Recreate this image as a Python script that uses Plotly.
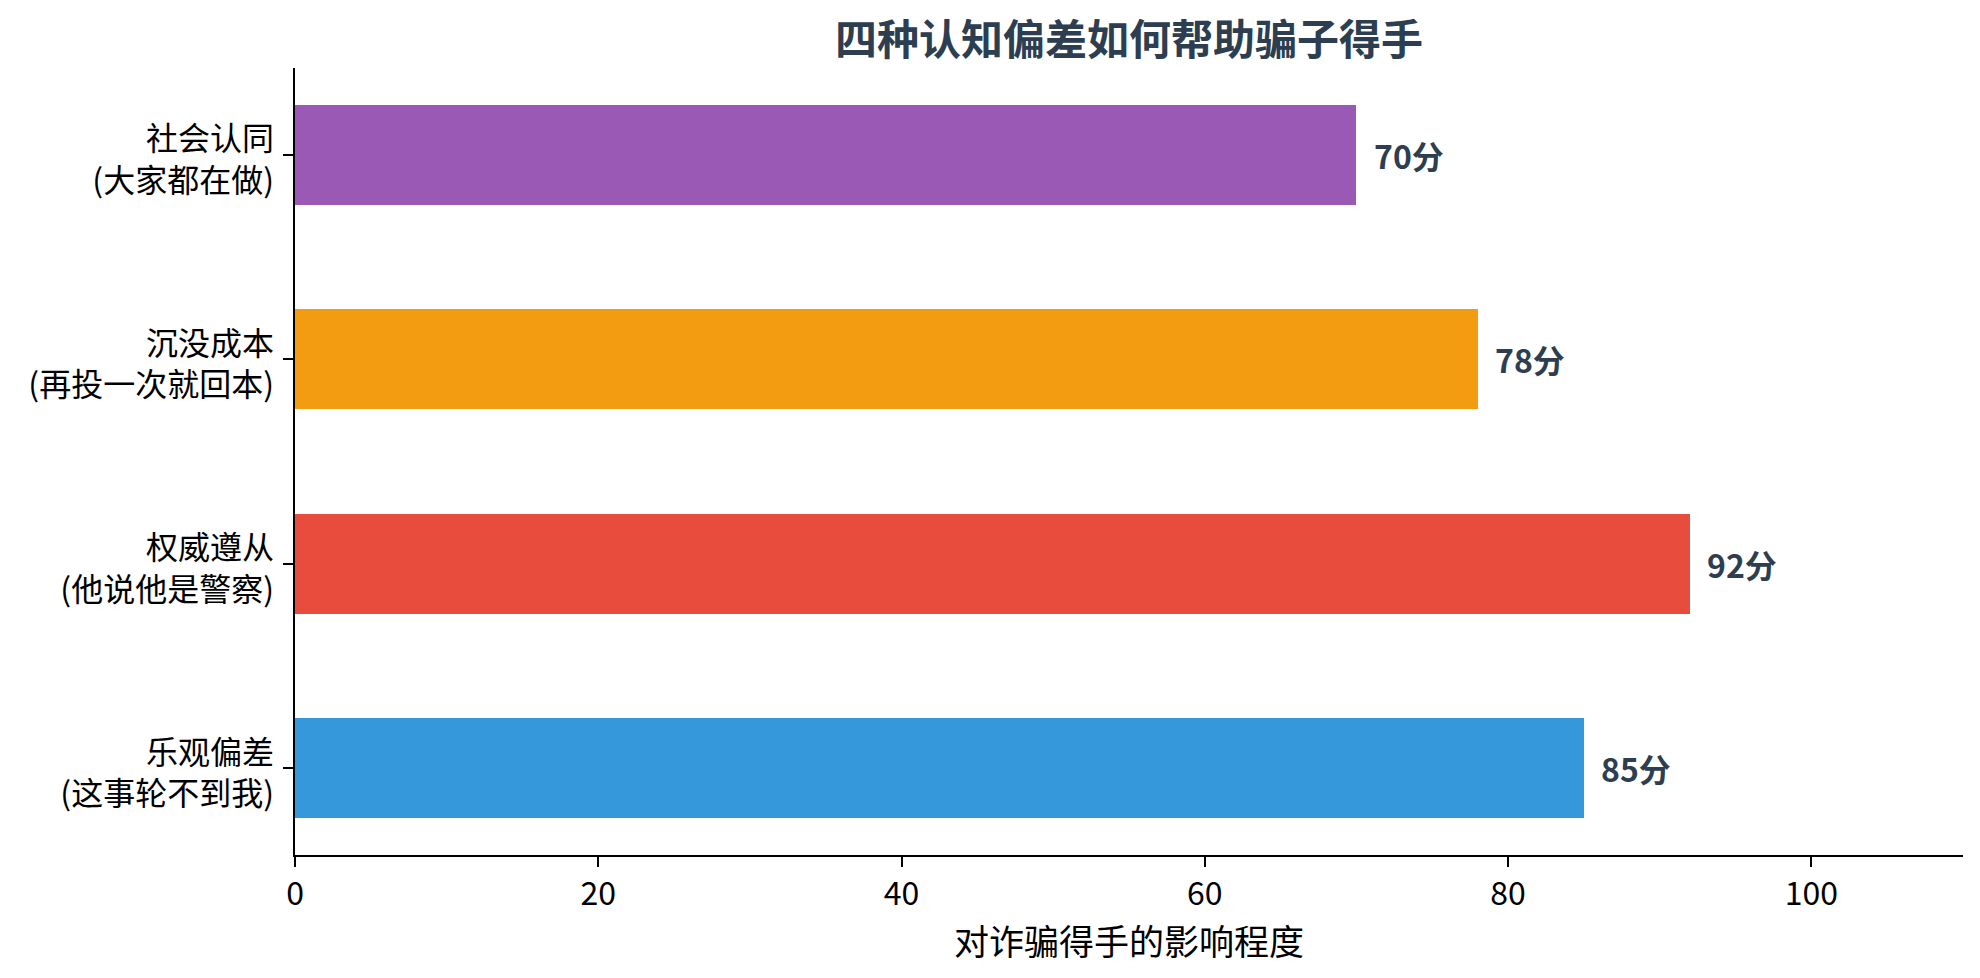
import plotly.graph_objects as go

categories = ["乐观偏差<br>(这事轮不到我)", "权威遵从<br>(他说他是警察)", "沉没成本<br>(再投一次就回本)", "社会认同<br>(大家都在做)"]
values = [85, 92, 78, 70]
colors = ["#3498db", "#e74c3c", "#f39c12", "#9b59b6"]
value_labels = [f"{v}分" for v in values]
x_ticks = [0, 20, 40, 60, 80, 100]

FONT = "Noto Sans CJK SC"
ypos = list(range(len(categories)))

PLOT_TOP, PLOT_BOTTOM = 68, 855
PLOT_H = PLOT_BOTTOM - PLOT_TOP
Y_RANGE = [-0.425, 3.425]
label_offset = 5 * (Y_RANGE[1] - Y_RANGE[0]) / PLOT_H  # shift labels 5px down

fig = go.Figure()
fig.add_trace(go.Bar(
    x=values, y=ypos, orientation="h", width=0.49,
    marker=dict(color=colors, line=dict(width=0)),
    hoverinfo="skip", showlegend=False,
))
# invisible helper trace so the label axis is drawn
fig.add_trace(go.Scatter(x=values, y=ypos, yaxis="y2", mode="markers",
                         marker=dict(opacity=0), showlegend=False, hoverinfo="skip"))

for y, v, lab in zip(ypos, values, value_labels):
    fig.add_annotation(x=v + 1, y=y, xref="x", yref="y", text=f"<b>{lab}</b>",
                       showarrow=False, xanchor="left", yanchor="middle",
                       font=dict(family=FONT, size=32, color="#2c3e50"))

fig.add_annotation(x=0.5, xref="paper", y=(PLOT_BOTTOM - 37) / PLOT_H, yref="paper",
                   text="<b>四种认知偏差如何帮助骗子得手</b>", showarrow=False,
                   xanchor="center", yanchor="middle",
                   font=dict(family=FONT, size=42, color="#2c3e50"))

fig.update_layout(
    width=1980, height=978,
    margin=dict(l=295, r=17, t=PLOT_TOP, b=978 - PLOT_BOTTOM),
    paper_bgcolor="white", plot_bgcolor="white",
    font=dict(family=FONT, color="black"),
    bargap=0,
    xaxis=dict(
        range=[0, 110], tickvals=x_ticks, ticktext=[str(t) for t in x_ticks],
        showgrid=False, zeroline=False, showline=True, linecolor="black", linewidth=2,
        ticks="outside", ticklen=10, tickwidth=2, tickcolor="black",
        tickfont=dict(family=FONT, size=32, color="black"),
        title=dict(text="对诈骗得手的影响程度", font=dict(family=FONT, size=35, color="black"), standoff=8),
    ),
    yaxis=dict(
        range=Y_RANGE, tickvals=ypos, showticklabels=False,
        showgrid=False, zeroline=False, showline=True, linecolor="black", linewidth=2,
        ticks="outside", ticklen=10, tickwidth=2, tickcolor="black",
    ),
    yaxis2=dict(
        overlaying="y", side="left", anchor="x", range=Y_RANGE,
        tickvals=[p - label_offset for p in ypos], ticktext=categories,
        showgrid=False, zeroline=False, showline=False, ticks="",
        ticklabelstandoff=20,
        tickfont=dict(family=FONT, size=32, color="black"),
    ),
)

fig.write_html("out.html")
